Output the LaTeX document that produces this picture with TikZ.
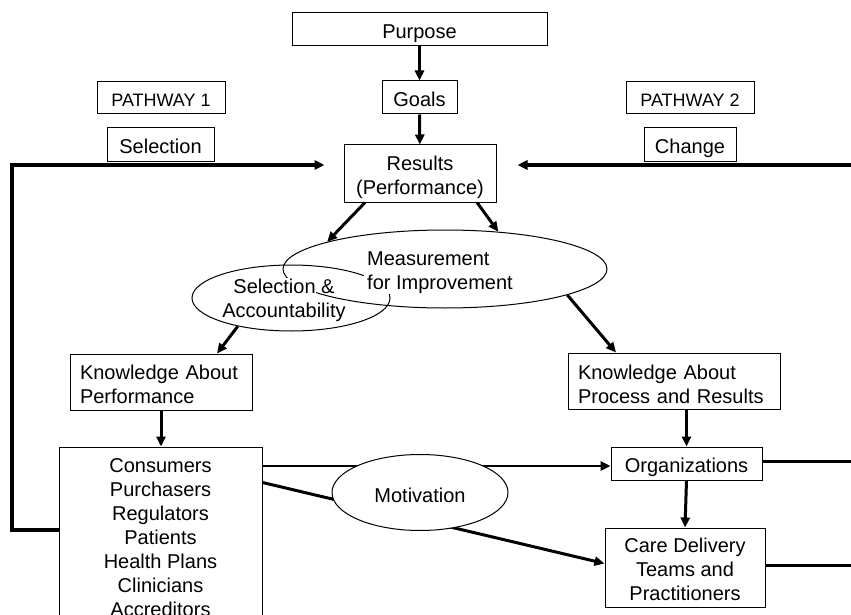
\documentclass[tikz,border=0pt]{standalone}
\usepackage{fontspec}
\setmainfont{Liberation Sans}
\usetikzlibrary{arrows.meta,shapes.geometric}
\begin{document}
\begin{tikzpicture}[x=1pt,y=-1pt,
  every node/.style={font=\fontsize{20}{24}\selectfont, inner sep=0pt},
  box/.style={draw, line width=1pt, rectangle, align=center},
  oneline/.style={text height=17.5pt, text depth=0pt},
  tag/.style={box, font=\fontsize{18}{22}\selectfont, text height=16.3pt, text depth=0pt},
  oval/.style={draw, line width=1pt, ellipse},
  mask/.style={fill=white},
  flow/.style={line width=3pt, -{Triangle[length=10pt,width=9pt]}},
  bar/.style={line width=3pt},
  loopline/.style={line width=3.5pt},
]
\useasboundingbox (0,0) rectangle (851,615);
\clip (0,0) rectangle (851,615);

% top chain
\node[box, oneline, minimum width=255, minimum height=33] (purpose) at (419.5,29.5) {Purpose};
\node[box, oneline, minimum width=75, minimum height=33] (goals) at (419.5,97.5) {Goals};
\node[box, minimum width=152, minimum height=57, text height=46.6pt, text depth=4.2pt]
  (results) at (420,173.5) {Results\\(Performance)};

% pathway labels
\node[tag, minimum width=128, minimum height=32] (path1) at (161,98) {PATHWAY 1};
\node[box, oneline, minimum width=107, minimum height=33] (selbox) at (160.5,144.5) {Selection};
\node[tag, minimum width=128, minimum height=32] (path2) at (690,98) {PATHWAY 2};
\node[box, oneline, minimum width=92, minimum height=33] (change) at (690,144.5) {Change};

% overlapping ellipses: outlines first, then white patches behind the labels
\node[oval, minimum width=324, minimum height=78] (meas) at (445,269) {};
\node[oval, minimum width=198, minimum height=66] (selacc) at (291,298) {};
\node[mask, minimum width=150, minimum height=51] (measmask) at (439,268.5) {};
\node[mask, minimum width=76, minimum height=44] (selmask) at (278,300) {};
\node[align=left] (meastext) at (440,273) {Measurement\\for Improvement};
\node[align=center] (seltext) at (284,300.5) {Selection \&\\Accountability};

% knowledge boxes
\node[box, minimum width=182, minimum height=56, text width=162, align=left,
  text height=19.4pt, text depth=24pt] (kap) at (161,382) {Knowledge About\\Performance};
\node[box, minimum width=212, minimum height=56, text width=192, align=left,
  text height=20.4pt, text depth=24pt] (kapr) at (674,381) {Knowledge About\\Process and Results};

% actors
\node[box, minimum width=203, minimum height=178, text height=161.3pt, text depth=0pt]
  (cons) at (160.5,536)
  {Consumers\\Purchasers\\Regulators\\Patients\\Health Plans\\Clinicians\\Accreditors};
\node[box, oneline, minimum width=151, minimum height=33] (orgs) at (686.5,463.5) {Organizations};
\node[box, minimum width=160, minimum height=79, text height=66.4pt, text depth=0pt]
  (care) at (685,567.5) {Care Delivery\\Teams and\\Practitioners};

% vertical flow
\draw[flow] (purpose) -- (goals);
\draw[flow] (goals) -- (results);
\draw[flow] ([xshift=-55pt]results.south) -- (meas.167);
\draw[flow] ([xshift=57pt]results.south) -- (meas.35);
\draw[flow] (selacc.208) -- ([xshift=56pt]kap.north);
\draw[flow] (meas.-12) -- ([xshift=-58pt]kapr.north);
\draw[flow] (kap.south) -- (kap.south |- cons.north);
\draw[flow] (orgs.north |- kapr.south) -- (orgs.north);
\draw[flow] (orgs.south) -- (care.north);

% motivation links, passing behind the ellipse
\coordinate (consA) at ([yshift=-2.5pt]orgs.west);
\coordinate (consB) at ([yshift=-36pt]cons.north east);
\draw[flow, line width=2.6pt] (cons.east |- consA) -- (consA);
\draw[flow] (consB) -- ([yshift=4pt]care.west);
\node[oval, fill=white, minimum width=176, minimum height=76, text height=20.3pt, text depth=0pt]
  (motiv) at (420,492.5) {Motivation};

% feedback loops
\coordinate (loopL) at (12,165);
\coordinate (loopR) at (856,165);
\draw[loopline, -{Triangle[length=10pt,width=9pt]}, shorten >=19pt]
  ([yshift=6pt]cons.west) -| (loopL) -- (loopL -| results.west);
\draw[loopline, -{Triangle[length=10pt,width=9pt]}, shorten >=21pt]
  (loopR) -- (loopR -| results.east);
\draw[bar] ([yshift=2.5pt]orgs.east) -- ([yshift=2.5pt]orgs.east -| loopR);
\draw[bar] ([yshift=2.5pt]care.east) -- ([yshift=2.5pt]care.east -| loopR);
\end{tikzpicture}
\end{document}
